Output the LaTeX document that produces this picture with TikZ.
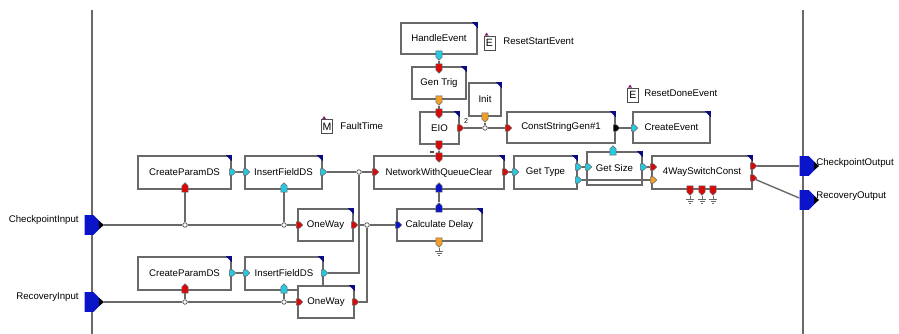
\documentclass[tikz,border=0pt]{standalone}
\usepackage{fontspec}
\setmainfont{Liberation Sans}
\usepackage{xcolor}
\usetikzlibrary{positioning,calc}
\usetikzlibrary{shapes.symbols}
\definecolor{PortRed}{RGB}{215,10,10}
\definecolor{PortCyan}{RGB}{40,200,225}
\definecolor{PortOrange}{RGB}{240,160,40}
\definecolor{PortBlue}{RGB}{10,20,200}
\definecolor{TabBlue}{RGB}{10,10,130}
\definecolor{WireGray}{RGB}{105,105,105}
\definecolor{EvtMark}{RGB}{120,30,110}

\tikzset{
  blk/.style={draw=WireGray, line width=0.9pt, fill=white, inner sep=1pt,
    font=\fontsize{5.5pt}{6pt}\selectfont},
  port/.style={signal, signal to=#1, draw=black!60, line width=0.3pt,
    inner sep=0pt, minimum width=0.125cm, minimum height=0.125cm},
  iop/.style={signal, signal to=east, fill=PortBlue, inner sep=0pt,
    minimum width=0.38cm, minimum height=0.4cm},
  junc/.style={circle, draw=black!70, fill=white, line width=0.4pt,
    inner sep=0pt, minimum size=0.09cm},
  wire/.style={draw=WireGray, line width=0.8pt},
  lbl/.style={inner sep=0pt, font=\fontsize{5.5pt}{6pt}\selectfont},
  evt/.style={draw=black!70, line width=0.5pt, fill=white, inner sep=0pt,
    minimum width=0.22cm, minimum height=0.28cm, font=\fontsize{6pt}{6pt}\selectfont}
}
\newcommand\tabcorner[1]{\fill[TabBlue] (#1.north east) -- ++(-6,0) -- ++(6,6) -- cycle;}
\newcommand\gndsym[1]{%
  \draw[wire, line width=0.5pt] (#1.south) -- ++(0,4)
    ++(-4,0) -- ++(8,0) ++(-6.5,2) -- ++(5,0) ++(-3.5,2) -- ++(2,0);}

\begin{document}
\begin{tikzpicture}[x=0.02cm, y=-0.02cm]
    \useasboundingbox (0,0) rectangle (899,334);

    % frame lines
    \draw[wire, line width=1pt] (92,10) -- (92,334);
    \draw[wire, line width=1pt] (803,10) -- (803,334);

    % blocks
    \node[blk, minimum width=1.52cm, minimum height=0.62cm] (he) at (439,38.5) {HandleEvent};
    \node[blk, minimum width=1.08cm, minimum height=0.64cm] (gt) at (439,83) {Gen Trig};
    \node[blk, minimum width=0.64cm, minimum height=0.66cm] (init) at (485,99.5) {Init};
    \node[blk, minimum width=0.78cm, minimum height=0.64cm] (eio) at (439.5,128) {EIO};
    \node[blk, minimum width=2.16cm, minimum height=0.62cm] (csg) at (561,127.5) {ConstStringGen\#1};
    \node[blk, minimum width=1.54cm, minimum height=0.62cm] (ce) at (671.5,127.5) {CreateEvent};
    \node[blk, minimum width=2.6cm, minimum height=0.66cm] (nq) at (439,172.5) {NetworkWithQueueClear};
    \node[blk, minimum width=1.26cm, minimum height=0.66cm] (gty) at (545.5,172.5) {Get Type};
    \node[blk, minimum width=1.1cm, minimum height=0.66cm] (gsz) at (614.5,168.5) {Get Size};
    \node[blk, minimum width=2.0cm, minimum height=0.66cm] (sw) at (702,172.5) {4WaySwitchConst};
    \node[blk, minimum width=1.7cm, minimum height=0.64cm] (cd) at (439.5,225) {Calculate Delay};
    \node[blk, minimum width=1.86cm, minimum height=0.66cm] (cp1) at (184.5,172.5) {CreateParamDS};
    \node[blk, minimum width=1.54cm, minimum height=0.66cm] (if1) at (283.5,172.5) {InsertFieldDS};
    \node[blk, minimum width=1.1cm, minimum height=0.64cm] (ow1) at (325.5,225) {OneWay};
    \node[blk, minimum width=1.86cm, minimum height=0.66cm] (cp2) at (184.5,273.5) {CreateParamDS};
    \node[blk, minimum width=1.56cm, minimum height=0.66cm] (if2) at (284,273.5) {InsertFieldDS};
    \node[blk, minimum width=1.12cm, minimum height=0.64cm] (ow2) at (326,302) {OneWay};
    \foreach \b in {he,gt,init,eio,csg,ce,nq,gty,gsz,sw,cd,cp1,if1,ow1,cp2,if2,ow2}
        \tabcorner{\b};

    % event and parameter icons
    \node[evt] (rse) at (489.5,43) {E};
    \node[lbl, anchor=west] (rse-l) at (503,41) {ResetStartEvent};
    \node[evt] (rde) at (633,95) {E};
    \node[lbl, anchor=west] (rde-l) at (644,93) {ResetDoneEvent};
    \node[evt] (ft) at (327,126.5) {M};
    \node[lbl, anchor=west] (ft-l) at (340,126) {FaultTime};
    \foreach \e in {rse,rde,ft}
        \fill[EvtMark] (\e.north west) ++(1,0) -- ++(2,-3) -- ++(2,3) -- cycle;

    % ports
    \node[port=south, fill=PortCyan] (he-b) at (439,54) {};
    \node[port=south, fill=PortRed] (gt-t) at (439,67) {};
    \node[port=south, fill=PortOrange] (gt-b) at (439,99) {};
    \node[port=south, fill=PortRed] (eio-t) at (439,112) {};
    \node[port=south, fill=PortRed] (eio-b) at (439,144) {};
    \node[port=east, fill=PortRed] (eio-o) at (459,128) {};
    \node[port=south, fill=PortOrange] (init-b) at (485,116) {};
    \node[port=east, fill=PortRed] (csg-i) at (507,128) {};
    \node[port=east, fill=black] (csg-o) at (615,128) {};
    \node[port=east, fill=PortCyan] (ce-i) at (633,128) {};
    \node[port=south, fill=PortRed] (nq-t) at (439,156) {};
    \node[port=north, fill=PortBlue] (nq-b) at (439,189) {};
    \node[port=east, fill=PortRed] (nq-i) at (374,172) {};
    \node[port=east, fill=PortRed] (nq-o) at (504,172) {};
    \node[port=east, fill=PortCyan] (gty-i) at (514,172) {};
    \node[port=east, fill=PortCyan] (gty-o1) at (577,167) {};
    \node[port=east, fill=PortCyan] (gty-o2) at (577,180) {};
    \node[port=east, fill=PortCyan] (gsz-i) at (587,167) {};
    \node[port=north, fill=PortCyan] (gsz-t) at (613,152) {};
    \node[port=east, fill=PortCyan] (gsz-o) at (642,167) {};
    \node[port=east, fill=PortRed] (sw-i1) at (652,167) {};
    \node[port=east, fill=PortOrange] (sw-i2) at (652,180) {};
    \node[port=east, fill=PortRed] (sw-o1) at (752,166) {};
    \node[port=east, fill=PortRed] (sw-o2) at (752,178) {};
    \foreach \i/\x in {1/690,2/702,3/713}
        \node[port=south, fill=PortRed] (sw-b\i) at (\x,189) {};
    \node[port=north, fill=PortBlue] (cd-t) at (439,209) {};
    \node[port=east, fill=PortBlue] (cd-i) at (397,225) {};
    \node[port=south, fill=PortOrange] (cd-b) at (439,241) {};
    \node[port=east, fill=PortCyan] (cp1-o) at (231,172) {};
    \node[port=north, fill=PortRed] (cp1-b) at (185,189) {};
    \node[port=east, fill=PortCyan] (if1-i) at (245,172) {};
    \node[port=east, fill=PortCyan] (if1-o) at (322,172) {};
    \node[port=north, fill=PortCyan] (if1-b) at (284,189) {};
    \node[port=east, fill=PortRed] (ow1-i) at (298,225) {};
    \node[port=east, fill=PortRed] (ow1-o) at (353,225) {};
    \node[port=east, fill=PortCyan] (cp2-o) at (231,273) {};
    \node[port=north, fill=PortRed] (cp2-b) at (185,290) {};
    \node[port=east, fill=PortCyan] (if2-i) at (245,273) {};
    \node[port=east, fill=PortCyan] (if2-o) at (323,273) {};
    \node[port=north, fill=PortCyan] (if2-b) at (284,290) {};
    \node[port=east, fill=PortRed] (ow2-i) at (298,302) {};
    \node[port=east, fill=PortRed] (ow2-o) at (354,302) {};
    \node[lbl, font=\fontsize{4pt}{4pt}\selectfont] (eio-n) at (466,121) {2};
    \draw[black!70, line width=0.6pt] (430,152) -- (434,152);

    % inputs and outputs
    \node[iop] (cpin) at (89,225) {};
    \node[iop] (rcin) at (89,302) {};
    \node[iop] (cpout) at (804,166) {};
    \node[iop] (rcout) at (804,200) {};
    \foreach \p in {cpin,rcin,cpout,rcout}
        \fill[black] (\p.east) -- ++(-5,-4) -- ++(0,8) -- cycle;
    \node[lbl, anchor=east] (cpin-l) at (79,220) {CheckpointInput};
    \node[lbl, anchor=east] (rcin-l) at (79,297) {RecoveryInput};
    \node[lbl, anchor=west] (cpout-l) at (816,163) {CheckpointOutput};
    \node[lbl, anchor=west] (rcout-l) at (816,196) {RecoveryOutput};

    % junctions
    \node[junc] (j1) at (185,225) {};
    \node[junc] (j2) at (284,225) {};
    \node[junc] (j3) at (359,172) {};
    \node[junc] (j4) at (367,225) {};
    \node[junc] (j5) at (185,302) {};
    \node[junc] (j6) at (284,302) {};
    \node[junc] (j7) at (485,128) {};

    % wires
    \draw[wire] (cpin) -- (j1) -- (j2) -- (ow1-i);
    \draw[wire] (cp1-b) -- (j1);
    \draw[wire] (if1-b) -- (j2);
    \draw[wire] (cp1-o) -- (if1-i);
    \draw[wire] (if1-o) -- (j3) -- (nq-i);
    \draw[wire] (j3) |- (if2-o);
    \draw[wire] (ow1-o) -- (j4) -- (cd-i);
    \draw[wire] (j4) |- (ow2-o);
    \draw[wire] (rcin) -- (j5) -- (j6) -- (ow2-i);
    \draw[wire] (cp2-b) -- (j5);
    \draw[wire] (if2-b) -- (j6);
    \draw[wire] (cp2-o) -- (if2-i);
    \draw[wire] (cd-t) -- (nq-b);
    \draw[wire] (he-b) -- (gt-t);
    \draw[wire] (gt-b) -- (eio-t);
    \draw[wire] (eio-b) -- (nq-t);
    \draw[wire] (eio-o) -- (j7) -- (csg-i);
    \draw[wire] (init-b) -- (j7);
    \draw[wire] (csg-o) -- (ce-i);
    \draw[wire] (nq-o) -- (gty-i);
    \draw[wire] (gty-o1) -- (gsz-i);
    \draw[wire] (gty-o2) -- (sw-i2);
    \draw[wire] (gsz-o) -- (sw-i1);
    \draw[wire] (sw-o1) -- (cpout);
    \draw[wire] (sw-o2) -- (rcout);

    % grounds
    \foreach \g in {cd-b,sw-b1,sw-b2,sw-b3}
        \gndsym{\g};
\end{tikzpicture}
\end{document}
